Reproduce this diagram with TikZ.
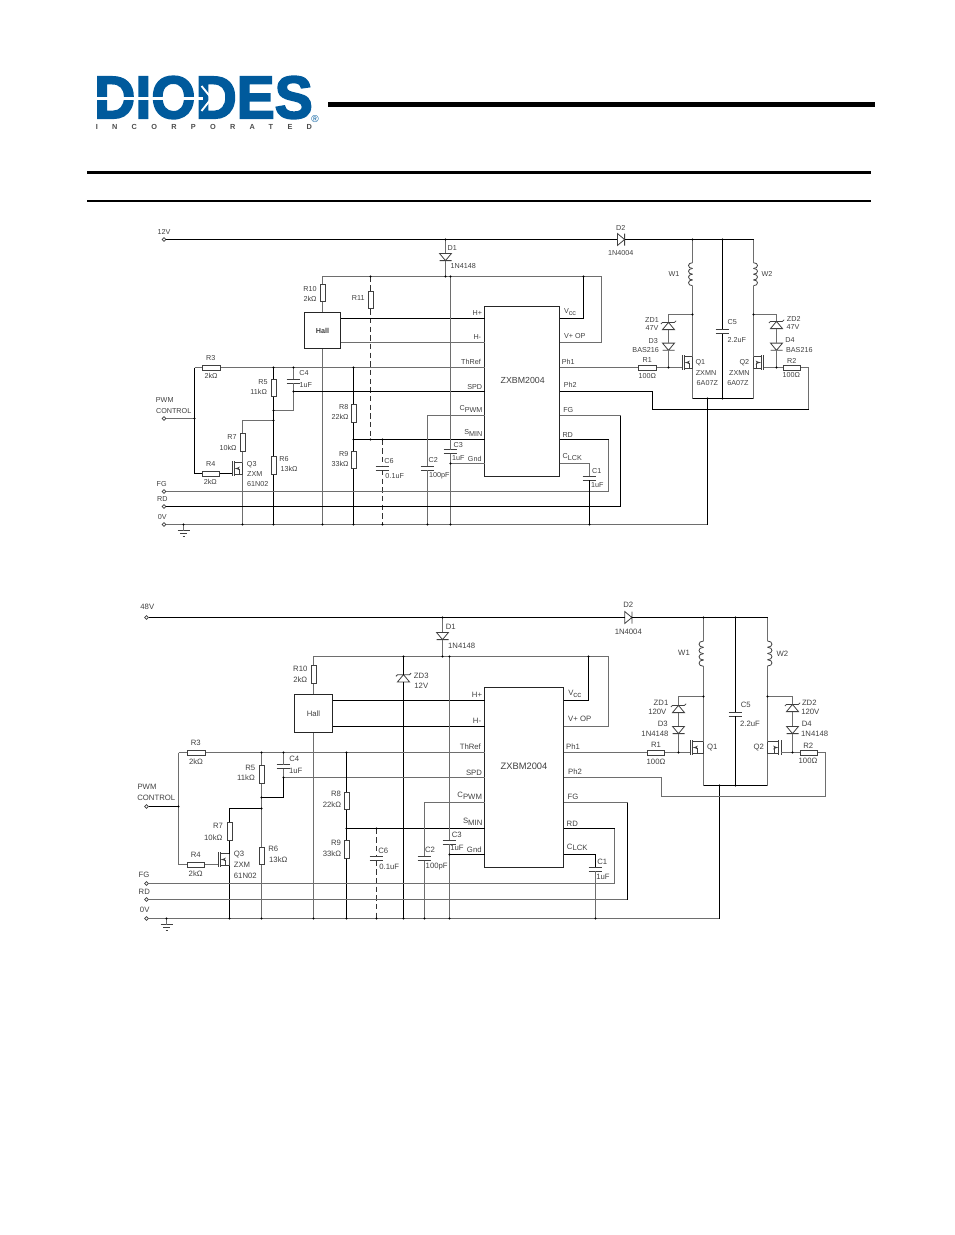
\documentclass[tikz,border=0pt]{standalone}
\usepackage{fontspec}
\setmainfont{Liberation Sans}
\newfontfamily\logofont[BoldFeatures={FakeBold=3}]{Liberation Sans}
\newfontfamily\incfont[LetterSpace=195]{Liberation Sans}
\usepackage{xcolor}
\usepackage{tikz}
\usetikzlibrary{shapes,arrows,positioning}
\definecolor{diodesblue}{HTML}{005A9C}
\definecolor{wiregray}{HTML}{6E6E6E}
\tikzstyle{line} = [draw, black, line width=0.75pt]
\tikzstyle{gline} = [draw, wiregray, line width=0.75pt]
\tikzstyle{dline} = [draw, black!80, line width=0.75pt, dashed, dash pattern=on 4pt off 2.5pt]
\tikzstyle{part} = [draw=black!75, line width=0.6pt]
\tikzstyle{block} = [rectangle, draw=black!85, line width=0.75pt, fill=white, inner sep=0pt]
\tikzstyle{rv} = [rectangle, part, fill=white, inner sep=0pt, minimum width=3.9pt, minimum height=13.2pt]
\tikzstyle{rh} = [rectangle, part, fill=white, inner sep=0pt, minimum width=13.2pt, minimum height=3.9pt]
\tikzstyle{gapv} = [rectangle, inner sep=0pt, minimum width=9.75pt, minimum height=2.7pt]
\tikzstyle{gapd} = [rectangle, inner sep=0pt, minimum width=8.6pt, minimum height=5pt]
\tikzstyle{term} = [circle, draw=black!75, line width=0.5pt, fill=white, inner sep=0pt, minimum size=2.8pt]
\tikzstyle{lab} = [inner sep=0pt, text=black!75, font=\fontsize{5.4}{6}\selectfont]
\tikzstyle{labb} = [inner sep=0pt, text=black!75, font=\fontsize{5.8}{6.5}\selectfont]
\newcommand{\low}[1]{\raisebox{-1.3pt}{#1}}
\newcommand{\capv}[3]{\node[gapv] (#1) at (#2,#3) {};
  \path[part] (#1.north west) -- (#1.north east) (#1.south west) -- (#1.south east);}
\newcommand{\ddown}[3]{\node[gapd] (#1) at (#2,#3) {};
  \path[part] (#1.north west) -- (#1.north east) -- (#1.south) -- cycle (#1.south west) -- (#1.south east);}
\newcommand{\dhor}[3]{\node[gapd, minimum width=5pt, minimum height=8.6pt] (#1) at (#2,#3) {};
  \path[part] (#1.north west) -- (#1.east) -- (#1.south west) -- cycle (#1.north east) -- (#1.south east);}
\newcommand{\zener}[3]{\node[gapd] (#1) at (#2,#3) {};
  \path[part] (#1.south west) -- (#1.south east) -- (#1.north) -- cycle
    ([xshift=-1.2pt,yshift=-1.2pt]#1.north west) -- (#1.north west) -- (#1.north east) -- ([xshift=1.2pt,yshift=1.2pt]#1.north east);}
% name, top x, top y, height, bulge
\newcommand{\coil}[5]{\coordinate (#1-t) at (#2,#3); \coordinate (#1-b) at (#2,#3+#4);
  \foreach \i in {0,1,2,3}
    \path[part] (#2,#3+\i*#4/4) .. controls (#2+#5*1.33,#3+\i*#4/4) and (#2+#5*1.33,#3+\i*#4/4+#4/4) .. (#2,#3+\i*#4/4+#4/4);}
% name, gate bar x, centre y, side, drain offset
\newcommand{\mos}[5]{\coordinate (#1-g) at (#2,#3+5); \coordinate (#1-d) at (#2+#4*#5,#3-6); \coordinate (#1-s) at (#2+#4*#5,#3+6);
  \path[part] (#2,#3-7.5) -- (#2,#3+7.5) (#2+#4*2.5,#3-7.5) -- (#2+#4*2.5,#3+7.5)
    (#2+#4*2.5,#3-6) -- (#1-d) -- (#1-s) -- (#2+#4*2.5,#3+6)
    (#2+#4*7,#3+6) -- (#2+#4*7,#3);
  \path[draw=black!75, line width=0.4pt, -latex'] (#2+#4*7,#3) -- (#2+#4*2.5,#3);}
% name, x, top y
\newcommand{\gndsym}[3]{\coordinate (#1) at (#2,#3);
  \path[part] (#2-6,#3) -- (#2+6,#3) (#2-3.5,#3+3) -- (#2+3.5,#3+3) (#2-1,#3+6) -- (#2+1,#3+6);}
\begin{document}
\begin{tikzpicture}[x=0.75pt,y=-0.75pt]
\useasboundingbox (0,0) rectangle (954,1235);
% header
\node[inner sep=0pt, text=diodesblue] (logo) at (203.5,97.5) {\scalebox{0.95}[1]{\fontsize{45}{45}\logofont\bfseries DIODES}};
\path[draw, white, line width=1.9pt] (95,98.3) -- (203,98.3);
\path[draw, white, line width=1.4pt] (201.5,86) -- (211.5,98.3) -- (201.5,111);
\node[inner sep=0pt, anchor=west, text=black!70, font=\fontsize{5.5}{6}\incfont\bfseries] (inc) at (95.5,126.7) {INCORPORATED};
\node[inner sep=0pt, text=diodesblue, font=\fontsize{7.5}{8}\selectfont] (regmark) at (315,119) {®};
\coordinate (bar-l) at (328,104.3); \coordinate (bar-r) at (875,104.3);
\coordinate (top-l) at (87,172.3); \coordinate (top-r) at (871,172.3);
\coordinate (bot-l) at (87,200.7); \coordinate (bot-r) at (871,200.7);
\path[draw, black, line width=3.9pt] (bar-l) -- (bar-r);
\path[draw, black, line width=2.3pt] (top-l) -- (top-r);
\path[draw, black, line width=1.5pt] (bot-l) -- (bot-r);

% 12V circuit
\node[term] (a-12v) at (164,239.5) {};
\node[term] (a-pwm) at (164,418.5) {};
\node[term] (a-fg) at (164,491.5) {};
\node[term] (a-rd) at (164,506.5) {};
\node[term] (a-0v) at (164,524.5) {};
\node[block, minimum width=27pt, minimum height=27pt, font=\fontsize{5.4}{6}\bfseries, text=black!75] (a-hall) at (322.5,330.5) {Hall};
\node[block, minimum width=56.25pt, minimum height=127.5pt] (a-ic) at (522,391.5) {};
\foreach \n/\y in {hp/318.5,hm/342.5,thr/367.5,spd/391.5,cpw/415.5,smn/439.5,gnd/463.5}
  \coordinate (a-\n) at (484.5,\y);
\foreach \n/\y in {vcc/318.5,vp/342.5,ph1/367.5,ph2/391.5,fgo/415.5,rdo/439.5,clk/463.5}
  \coordinate (a-\n) at (559.5,\y);
\node[rv] (a-r10) at (322.5,293) {};
\node[rv] (a-r11) at (370.5,300) {};
\node[rh] (a-r3) at (211.3,367.5) {};
\node[rh] (a-r4) at (211,473.5) {};
\node[rv] (a-r5) at (273.5,388) {};
\node[rv] (a-r6) at (273.5,465.3) {};
\node[rv] (a-r7) at (242.5,442.3) {};
\node[rv] (a-r8) at (353.5,413.3) {};
\node[rv] (a-r9) at (353.5,459.7) {};
\node[rh] (a-r1) at (647.3,367.5) {};
\node[rh] (a-r2) at (792,367.5) {};
\capv{a-c4}{293.5}{381}
\capv{a-c6}{382.5}{468}
\capv{a-c2}{427.5}{468}
\capv{a-c3}{450.5}{451.7}
\capv{a-c1}{589.5}{478}
\capv{a-c5}{722.5}{331.5}
\ddown{a-d1}{445.5}{257}
\dhor{a-d2}{621}{239.5}
\zener{a-zd1}{668.5}{326}
\ddown{a-d3}{668.5}{346.7}
\zener{a-zd2}{776.5}{325}
\ddown{a-d4}{776.5}{346.7}
\coil{a-w1}{692.5}{262.7}{23}{-4}
\coil{a-w2}{753.5}{262.7}{23}{4}
\mos{a-q1}{682}{362.5}{1}{10.5}
\mos{a-q2}{763.5}{362.5}{-1}{10}
\mos{a-q3}{232}{468.5}{1}{10.5}
\gndsym{a-g}{183.5}{530.5}
\coordinate (a-jd1) at (445.5,239.5);
\coordinate (a-jw1) at (692.5,239.5);
\coordinate (a-jc5) at (722.5,239.5);
\coordinate (a-jw2) at (753.5,239.5);
\coordinate (a-jd1b) at (445.5,276.5);
\coordinate (a-cn) at (601.5,276.5);
\coordinate (a-jvcc) at (583.5,276.5);
\coordinate (a-j371) at (370.5,276.5);
\coordinate (a-j371b) at (370.5,439.5);
\coordinate (a-vt) at (194.5,367.5);
\coordinate (a-jpwm) at (194.5,418.5);
\coordinate (a-j5t) at (273.5,367.5);
\coordinate (a-j5m) at (273.5,410.5);
\coordinate (a-j5d) at (273.5,420.5);
\coordinate (a-j5b) at (273.5,524.5);
\coordinate (a-jc4t) at (293.5,367.5);
\coordinate (a-jc4b) at (293.5,391.5);
\coordinate (a-j7b) at (242.5,524.5);
\coordinate (a-j8t) at (353.5,367.5);
\coordinate (a-j8m) at (353.5,439.5);
\coordinate (a-j8b) at (353.5,524.5);
\coordinate (a-j6t) at (382.5,439.5);
\coordinate (a-j6b) at (382.5,524.5);
\coordinate (a-j2b) at (427.5,524.5);
\coordinate (a-jhb) at (322.5,524.5);
\coordinate (a-jc3t) at (450.5,276.5);
\coordinate (a-jc3m) at (450.5,463.5);
\coordinate (a-jc3b) at (450.5,524.5);
\coordinate (a-cr) at (608.5,439.5);
\coordinate (a-cf) at (620.5,415.5);
\coordinate (a-j1b) at (589.5,524.5);
\coordinate (a-jq) at (707.5,398.5);
\coordinate (a-wl) at (692.5,398.5);
\coordinate (a-wr) at (753.5,398.5);
\coordinate (a-jc5b) at (722.5,398.5);
\coordinate (a-jz1) at (692.5,314.5);
\coordinate (a-jz2) at (753.5,314.5);
\coordinate (a-jq1) at (668.5,367.5);
\coordinate (a-jq2) at (776.5,367.5);
\coordinate (a-c2r) at (808.5,409.5);
\coordinate (a-c2l) at (652.5,391.5);
\coordinate (a-j0) at (183.5,524.5);
\path[line] (a-12v.east) -- (a-d2.west);
\path[line] (a-d2.east) -- (a-jw2);
\path[gline] (a-jd1) -- (a-d1.north);
\path[gline] (a-d1.south) -- (a-jd1b);
\path[gline] (a-r10.north) |- (a-cn);
\path[gline] (a-cn) |- (a-vp);
\path[line] (a-jvcc) |- (a-vcc);
\path[gline] (a-r10.south) -- (a-hall.north);
\path[gline] (a-hall.south) -- (a-jhb);
\path[dline] (a-j371) -- (a-r11.north);
\path[dline] (a-r11.south) -- (a-j371b);
\path[line] (a-hall.east |- a-hp) -- (a-hp);
\path[gline] (a-hall.east |- a-hm) -- (a-hm);
\path[gline] (a-vt) -- (a-r3.west);
\path[gline] (a-r3.east) -- (a-thr);
\path[line] (a-vt) |- (a-r4.west);
\path[gline] (a-pwm.east) -- (a-jpwm);
\path[line] (a-r4.east) -- (a-q3-g);
\path[line] (a-j5t) -- (a-r5.north);
\path[line] (a-r5.south) -- (a-r6.north);
\path[line] (a-r6.south) -- (a-j5b);
\path[gline] (a-j5m) -| (a-jc4b);
\path[gline] (a-jc4b) -- (a-c4.south);
\path[gline] (a-c4.north) -- (a-jc4t);
\path[line] (a-jc4b) -- (a-spd);
\path[gline] (a-j5d) -| (a-r7.north);
\path[gline] (a-r7.south) -- (a-q3-d);
\path[gline] (a-q3-s) -- (a-j7b);
\path[line] (a-j8t) -- (a-r8.north);
\path[line] (a-r8.south) -- (a-r9.north);
\path[line] (a-r9.south) -- (a-j8b);
\path[line] (a-j8m) -- (a-smn);
\path[dline] (a-j6t) -- (a-c6.north);
\path[dline] (a-c6.south) -- (a-j6b);
\path[gline] (a-cpw) -| (a-c2.north);
\path[gline] (a-c2.south) -- (a-j2b);
\path[gline] (a-jc3t) -- (a-c3.north);
\path[gline] (a-c3.south) -- (a-jc3b);
\path[gline] (a-jc3m) -- (a-gnd);
\path[gline] (a-fg.east) -| (a-cr);
\path[line] (a-cr) -- (a-rdo);
\path[line] (a-rd.east) -| (a-cf);
\path[gline] (a-cf) -- (a-fgo);
\path[gline] (a-0v.east) -- (a-jq |- a-0v);
\path[line] (a-jq |- a-0v) -- (a-jq);
\path[line] (a-wl) -- (a-wr);
\path[gline] (a-clk) -| (a-c1.north);
\path[line] (a-c1.south) -- (a-j1b);
\path[line] (a-jc5) -- (a-c5.north);
\path[line] (a-c5.south) -- (a-jc5b);
\path[gline] (a-jw1) -- (a-w1-t);
\path[gline] (a-w1-b) -- (a-q1-d);
\path[gline] (a-q1-s) -- (a-wl);
\path[gline] (a-jw2) -- (a-w2-t);
\path[gline] (a-w2-b) -- (a-q2-d);
\path[gline] (a-q2-s) -- (a-wr);
\path[gline] (a-jz1) -| (a-zd1.north);
\path[gline] (a-zd1.south) -- (a-d3.north);
\path[gline] (a-d3.south) -- (a-jq1);
\path[gline] (a-ph1) -- (a-r1.west);
\path[gline] (a-r1.east) -- (a-q1-g);
\path[gline] (a-jz2) -| (a-zd2.north);
\path[gline] (a-zd2.south) -- (a-d4.north);
\path[gline] (a-d4.south) -- (a-jq2);
\path[gline] (a-q2-g) -- (a-r2.west);
\path[gline] (a-r2.east) -| (a-c2r);
\path[line] (a-c2r) -| (a-c2l);
\path[line] (a-c2l) -- (a-ph2);
\path[gline] (a-j0) -- (a-g);
\foreach \p in {a-jd1,a-jw1,a-jc5,a-jd1b,a-jvcc,a-j371,a-j371b,a-jpwm,a-j5t,a-j5m,a-j5d,a-j5b,a-jc4t,a-jc4b,a-j7b,a-j8t,a-j8m,a-j8b,a-j6t,a-j6b,a-j2b,a-jhb,a-jc3t,a-jc3m,a-jc3b,a-j1b,a-jq,a-jc5b,a-jz1,a-jz2,a-jq1,a-jq2,a-j0}
  \fill (\p) circle (1.1);
\foreach \x/\y/\txt [count=\i] in {164/232/12V,452.3/248.3/D1,463.3/266.3/1N4148,310/289/R10,310/298.7/2kΩ,358.3/298/R11,
  210.7/358.3/R3,211/376/2kΩ,263/382.3/R5,258.7/392/11kΩ,304/373.3/C4,305.7/385/1uF,164.7/400.3/PWM,173.7/411/CONTROL,
  232/437/R7,228/448/10kΩ,210.7/464/R4,210.3/482.3/2kΩ,251.7/464.3/Q3,254.7/474.3/ZXM,257.7/484.3/61N02,
  284/458.7/R6,289/469/13kΩ,343.7/407/R8,340/417/22kΩ,343.7/453.7/R9,340/463.7/33kΩ,389/461/C6,394.7/476/0.1uF,
  433.3/460/C2,439.3/476/100pF,458.3/445/C3,458.3/458/1uF,161.7/484/FG,162.3/499.3/RD,162.3/516.7/0V,
  477.3/313/H+,477.3/337.3/H-,471/362/ThRef,474.7/387/SPD,471/409.3/C\low{PWM},473.3/433.3/S\low{MIN},474.7/459/Gnd,
  620.7/228/D2,620.7/252.7/1N4004,570/311.7/V\low{cc},574.7/336/V+ OP,568.3/362/Ph1,570.3/385.3/Ph2,568.3/410/FG,567.7/435.3/RD,572.3/457.3/C\low{LCK},
  596.7/471.3/C1,597.3/485/1uF,674/274/W1,767/274.3/W2,652/320.3/ZD1,652/328.3/47V,653.3/340.7/D3,645.7/350/BAS216,
  647.3/360/R1,647.3/376/100Ω,700.3/363/Q1,706/373/ZXMN,707.3/383/6A07Z,732.3/322/C5,736.7/340.3/2.2uF,
  744.3/363/Q2,739.3/373/ZXMN,738/383/6A07Z,793.7/319/ZD2,793/326.7/47V,790/340.3/D4,799.3/350/BAS216,791.7/360.7/R2,791.3/375.3/100Ω}
  \node[lab] (a-lab\i) at (\x,\y) {\txt};
\node[inner sep=0pt, text=black!75, font=\fontsize{6.6}{7}\selectfont] (a-iclab) at (522.7,380.7) {ZXBM2004};

% 48V circuit
\node[term] (b-48v) at (146.5,617.5) {};
\node[term] (b-pwm) at (146.5,806.5) {};
\node[term] (b-fg) at (146.5,883.5) {};
\node[term] (b-rd) at (146.5,899.5) {};
\node[term] (b-0v) at (146.5,918.5) {};
\node[block, minimum width=28.5pt, minimum height=28.5pt, font=\fontsize{5.8}{6}\selectfont, text=black!75] (b-hall) at (313.5,713.5) {Hall};
\node[block, minimum width=59.25pt, minimum height=135pt] (b-ic) at (524,777.5) {};
\foreach \n/\y in {hp/700.5,hm/726.5,thr/752.5,spd/777.5,cpw/802.5,smn/828.5,gnd/854.5}
  \coordinate (b-\n) at (484.5,\y);
\foreach \n/\y in {vcc/700.5,vp/726.5,ph1/752.5,ph2/777.5,fgo/802.5,rdo/828.5,clk/854.5}
  \coordinate (b-\n) at (563.5,\y);
\node[rv] (b-r10) at (313.5,674.5) {};
\node[rh] (b-r3) at (196.3,752.5) {};
\node[rh] (b-r4) at (195.7,864.5) {};
\node[rv] (b-r5) at (261.5,774.3) {};
\node[rv] (b-r6) at (261.5,856) {};
\node[rv] (b-r7) at (229.5,831.3) {};
\node[rv] (b-r8) at (346.5,801) {};
\node[rv] (b-r9) at (346.5,849.5) {};
\node[rh] (b-r1) at (656,752.5) {};
\node[rh] (b-r2) at (809,752.5) {};
\capv{b-c4}{283.5}{766.7}
\capv{b-c6}{376.5}{858.5}
\capv{b-c2}{424.5}{858.5}
\capv{b-c3}{449.5}{842.4}
\capv{b-c1}{595.5}{869.2}
\capv{b-c5}{735.5}{714.3}
\ddown{b-d1}{442.5}{636}
\dhor{b-d2}{628.3}{617.5}
\zener{b-zd3}{403.5}{678.3}
\zener{b-zd1}{678.5}{709}
\ddown{b-d3}{678.5}{730}
\zener{b-zd2}{792.5}{708}
\ddown{b-d4}{792.5}{730}
\coil{b-w1}{703.5}{641}{25.3}{-4.5}
\coil{b-w2}{767.5}{641}{25}{4.5}
\mos{b-q1}{690}{747.5}{1}{13.5}
\mos{b-q2}{781}{747.5}{-1}{13.5}
\mos{b-q3}{218}{859.5}{1}{11.5}
\gndsym{b-g}{166.5}{924.5}
\coordinate (b-jd1) at (442.5,617.5);
\coordinate (b-jw1) at (703.5,617.5);
\coordinate (b-jc5) at (735.5,617.5);
\coordinate (b-jw2) at (767.5,617.5);
\coordinate (b-jd1b) at (442.5,656.5);
\coordinate (b-cn) at (608.5,656.5);
\coordinate (b-jvcc) at (588.5,656.5);
\coordinate (b-jz3t) at (403.5,656.5);
\coordinate (b-jz3b) at (403.5,918.5);
\coordinate (b-vt) at (178.5,752.5);
\coordinate (b-jpwm) at (178.5,806.5);
\coordinate (b-j5t) at (261.5,752.5);
\coordinate (b-j5m) at (261.5,797.5);
\coordinate (b-j5d) at (261.5,808.5);
\coordinate (b-j5b) at (261.5,918.5);
\coordinate (b-jc4t) at (283.5,752.5);
\coordinate (b-jc4b) at (283.5,777.5);
\coordinate (b-j7b) at (229.5,918.5);
\coordinate (b-j8t) at (346.5,752.5);
\coordinate (b-j8m) at (346.5,828.5);
\coordinate (b-j8b) at (346.5,918.5);
\coordinate (b-j6t) at (376.5,828.5);
\coordinate (b-j6b) at (376.5,918.5);
\coordinate (b-j2b) at (424.5,918.5);
\coordinate (b-jhb) at (313.5,918.5);
\coordinate (b-jc3t) at (449.5,656.5);
\coordinate (b-jc3m) at (449.5,854.5);
\coordinate (b-jc3b) at (449.5,918.5);
\coordinate (b-cr) at (614.5,828.5);
\coordinate (b-cf) at (627.5,802.5);
\coordinate (b-j1b) at (595.5,918.5);
\coordinate (b-jq) at (719.5,785.5);
\coordinate (b-wl) at (703.5,785.5);
\coordinate (b-wr) at (767.5,785.5);
\coordinate (b-jc5b) at (735.5,785.5);
\coordinate (b-jz1) at (703.5,696.5);
\coordinate (b-jz2) at (767.5,696.5);
\coordinate (b-jq1) at (678.5,752.5);
\coordinate (b-jq2) at (792.5,752.5);
\coordinate (b-c2r) at (825.5,796.5);
\coordinate (b-c2l) at (661.5,777.5);
\coordinate (b-j0) at (166.5,918.5);
\path[line] (b-48v.east) -- (b-d2.west);
\path[line] (b-d2.east) -- (b-jw2);
\path[gline] (b-jd1) -- (b-d1.north);
\path[gline] (b-d1.south) -- (b-jd1b);
\path[gline] (b-r10.north) |- (b-cn);
\path[gline] (b-cn) |- (b-vp);
\path[line] (b-jvcc) |- (b-vcc);
\path[gline] (b-r10.south) -- (b-hall.north);
\path[gline] (b-hall.south) -- (b-jhb);
\path[line] (b-jz3t) -- (b-zd3.north);
\path[line] (b-zd3.south) -- (b-jz3b);
\path[line] (b-hall.east |- b-hp) -- (b-hp);
\path[line] (b-hall.east |- b-hm) -- (b-hm);
\path[gline] (b-vt) -- (b-r3.west);
\path[gline] (b-r3.east) -- (b-thr);
\path[gline] (b-vt) |- (b-r4.west);
\path[line] (b-pwm.east) -- (b-jpwm);
\path[gline] (b-r4.east) -- (b-q3-g);
\path[gline] (b-j5t) -- (b-r5.north);
\path[gline] (b-r5.south) -- (b-r6.north);
\path[gline] (b-r6.south) -- (b-j5b);
\path[line] (b-j5m) -| (b-jc4b);
\path[gline] (b-jc4b) -- (b-c4.south);
\path[gline] (b-c4.north) -- (b-jc4t);
\path[gline] (b-jc4b) -- (b-spd);
\path[line] (b-j5d) -| (b-r7.north);
\path[line] (b-r7.south) -- (b-q3-d);
\path[line] (b-q3-s) -- (b-j7b);
\path[line] (b-j8t) -- (b-r8.north);
\path[line] (b-r8.south) -- (b-r9.north);
\path[line] (b-r9.south) -- (b-j8b);
\path[line] (b-j8m) -- (b-smn);
\path[dline] (b-j6t) -- (b-c6.north);
\path[dline] (b-c6.south) -- (b-j6b);
\path[gline] (b-cpw) -| (b-c2.north);
\path[gline] (b-c2.south) -- (b-j2b);
\path[gline] (b-jc3t) -- (b-c3.north);
\path[gline] (b-c3.south) -- (b-jc3b);
\path[line] (b-jc3m) -- (b-gnd);
\path[gline] (b-fg.east) -| (b-cr);
\path[line] (b-cr) -- (b-rdo);
\path[gline] (b-rd.east) -- (b-cf |- b-rd);
\path[line] (b-cf |- b-rd) -- (b-cf);
\path[gline] (b-cf) -- (b-fgo);
\path[gline] (b-0v.east) -- (b-jq |- b-0v);
\path[line] (b-jq |- b-0v) -- (b-jq);
\path[line] (b-wl) -- (b-wr);
\path[line] (b-clk) -| (b-c1.north);
\path[gline] (b-c1.south) -- (b-j1b);
\path[line] (b-jc5) -- (b-c5.north);
\path[line] (b-c5.south) -- (b-jc5b);
\path[gline] (b-jw1) -- (b-w1-t);
\path[gline] (b-w1-b) -- (b-q1-d);
\path[gline] (b-q1-s) -- (b-wl);
\path[gline] (b-jw2) -- (b-w2-t);
\path[gline] (b-w2-b) -- (b-q2-d);
\path[gline] (b-q2-s) -- (b-wr);
\path[gline] (b-jz1) -| (b-zd1.north);
\path[gline] (b-zd1.south) -- (b-d3.north);
\path[gline] (b-d3.south) -- (b-jq1);
\path[gline] (b-ph1) -- (b-r1.west);
\path[gline] (b-r1.east) -- (b-q1-g);
\path[gline] (b-jz2) -| (b-zd2.north);
\path[gline] (b-zd2.south) -- (b-d4.north);
\path[gline] (b-d4.south) -- (b-jq2);
\path[gline] (b-q2-g) -- (b-r2.west);
\path[gline] (b-r2.east) -| (b-c2r);
\path[gline] (b-c2r) -| (b-c2l);
\path[gline] (b-c2l) -- (b-ph2);
\path[gline] (b-j0) -- (b-g);
\foreach \p in {b-jd1,b-jw1,b-jc5,b-jd1b,b-jvcc,b-jz3t,b-jz3b,b-jpwm,b-j5t,b-j5m,b-j5d,b-j5b,b-jc4t,b-jc4b,b-j7b,b-j8t,b-j8m,b-j8b,b-j6t,b-j6b,b-j2b,b-jhb,b-jc3t,b-jc3m,b-jc3b,b-j1b,b-jq,b-jc5b,b-jz1,b-jz2,b-jq1,b-jq2,b-j0}
  \fill (\p) circle (1.1);
\foreach \x/\y/\txt [count=\i] in {147.3/607/48V,450.7/627/D1,461.7/646/1N4148,300.3/669/R10,300.3/679.7/2kΩ,421.3/675.7/ZD3,421.3/686/12V,
  195.7/743.3/R3,196/762/2kΩ,250.3/768/R5,246/778/11kΩ,294.3/758.7/C4,295.7/771/1uF,147/787.3/PWM,156.3/798/CONTROL,
  218/826.3/R7,213.3/837.3/10kΩ,195.7/854.7/R4,195.7/874/2kΩ,239/855/Q3,242/865.3/ZXM,245.3/876/61N02,
  273.3/849/R6,278.3/859.7/13kΩ,336/794/R8,332/805/22kΩ,336/843.3/R9,332/854/33kΩ,383.3/851/C6,389.3/866.7/0.1uF,
  430/850.3/C2,436.7/867/100pF,456.7/834.7/C3,457/848/1uF,144/875/FG,144.3/892/RD,144.7/910/0V,
  477/695/H+,477/721/H-,470.3/746.7/ThRef,474/772.7/SPD,469.7/796/C\low{PWM},472.7/822/S\low{MIN},474.3/849.3/Gnd,
  628.3/605/D2,628.3/631.7/1N4004,574.7/693.7/V\low{cc},579.7/719/V+ OP,573/746.7/Ph1,575/771.7/Ph2,573/797/FG,572.3/824/RD,577.3/847.3/C\low{LCK},
  602.3/861.7/C1,603/877/1uF,684/653.3/W1,782.3/654/W2,661/702.7/ZD1,657.3/712/120V,662.7/724.3/D3,655/734.3/1N4148,
  656/745.3/R1,656/762/100Ω,712.3/748/Q1,745.7/705.3/C5,750/724/2.2uF,758.7/748/Q2,
  809.3/702.3/ZD2,810.3/712/120V,806.7/724/D4,814.7/734/1N4148,808.3/745.7/R2,808/761/100Ω}
  \node[labb] (b-lab\i) at (\x,\y) {\txt};
\node[inner sep=0pt, text=black!75, font=\fontsize{7}{8}\selectfont] (b-iclab) at (524,766.3) {ZXBM2004};
\end{tikzpicture}
\end{document}
